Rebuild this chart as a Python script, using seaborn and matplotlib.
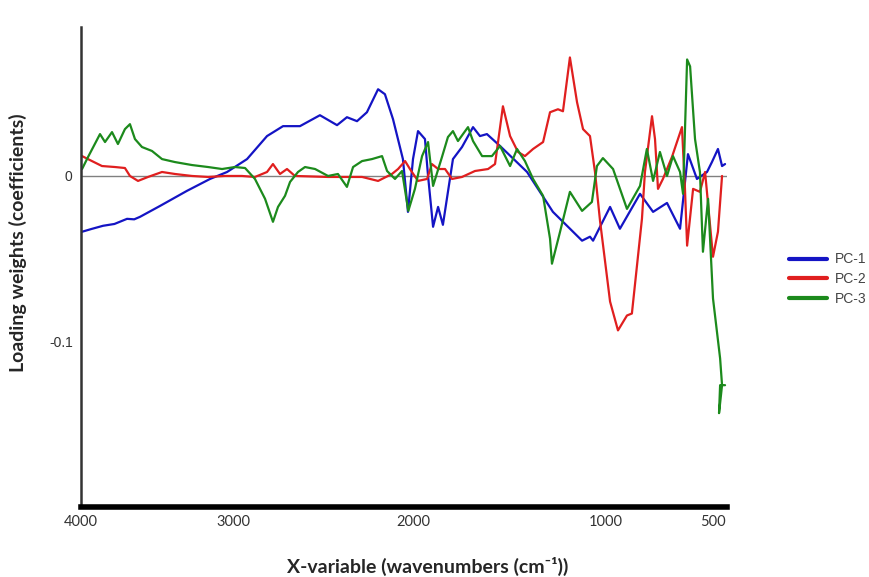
import numpy as np
import pandas as pd
import matplotlib
matplotlib.use("Agg")
import matplotlib.pyplot as plt
import seaborn as sns

# values (wavenumber, loading weight)
pc1_x = [3993, 3930, 3855, 3780, 3697, 3650, 3612, 3480, 3303, 3151, 3039, 2922, 2811, 2722,
         2628, 2517, 2422, 2367, 2311, 2256, 2194, 2156, 2111, 2056, 2028, 2000, 1974, 1938,
         1922, 1896, 1870, 1845, 1793, 1746, 1689, 1653, 1617, 1549, 1409, 1275, 1124, 1083,
         1067, 981, 935, 841, 780, 715, 654, 617, 575, 528, 505, 477, 458, 444]
pc1_y = [-0.0337, -0.0320, -0.0301, -0.0290, -0.0259, -0.0262, -0.0247, -0.0181, -0.0090,
         -0.0018, 0.0024, 0.0102, 0.0241, 0.0301, 0.0301, 0.0367, 0.0307, 0.0355, 0.0331,
         0.0385, 0.0524, 0.0494, 0.0343, 0.0102, -0.0217, 0.0102, 0.0271, 0.0223, 0.0,
         -0.0307, -0.0187, -0.0295, 0.0102, 0.0175, 0.0295, 0.0241, 0.0253, 0.0181, 0.0024,
         -0.0217, -0.0391, -0.0367, -0.0391, -0.0187, -0.0319, -0.0108, -0.0217, -0.0163,
         -0.0319, 0.0132, -0.0018, 0.0024, 0.0084, 0.0163, 0.0060, 0.0072]

pc2_x = [3993, 3928, 3862, 3776, 3711, 3678, 3625, 3559, 3467, 3382, 3270, 3164, 3053, 2950,
         2878, 2811, 2778, 2739, 2700, 2656, 2472, 2283, 2194, 2117, 2083, 2044, 2017, 1974,
         1927, 1902, 1870, 1834, 1798, 1746, 1679, 1611, 1575, 1534, 1497, 1456, 1420, 1378,
         1326, 1290, 1249, 1223, 1187, 1150, 1119, 1083, 1057, 1031, 981, 944, 902, 879, 832,
         818, 785, 771, 757, 734, 692, 645, 631, 621, 593, 561, 537, 500, 477, 458]
pc2_y = [0.0120, 0.0090, 0.0060, 0.0054, 0.0048, 0.0, -0.0030, -0.0006, 0.0024, 0.0012, 0.0,
         -0.0006, 0.0, 0.0, -0.0006, 0.0024, 0.0072, 0.0012, 0.0042, 0.0, -0.0006, -0.0006,
         -0.0030, 0.0012, 0.0042, 0.0090, 0.0042, -0.0030, -0.0018, 0.0072, 0.0042, 0.0042,
         -0.0018, -0.0006, 0.0030, 0.0042, 0.0072, 0.0421, 0.0241, 0.0145, 0.0120, 0.0163,
         0.0205, 0.0385, 0.0403, 0.0391, 0.0716, 0.0445, 0.0283, 0.0241, 0.0024, -0.0271,
         -0.0759, -0.0933, -0.0843, -0.0831, -0.0259, 0.0024, 0.0361, 0.0223, -0.0078,
         -0.0018, 0.0114, 0.0295, -0.0078, -0.0421, -0.0078, -0.0096, 0.0024, -0.0488,
         -0.0337, 0.0]

pc3_x = [3993, 3954, 3875, 3842, 3796, 3757, 3711, 3678, 3645, 3599, 3533, 3467, 3382, 3270,
         3164, 3072, 2989, 2933, 2878, 2822, 2778, 2750, 2711, 2683, 2639, 2600, 2544, 2472,
         2417, 2367, 2333, 2283, 2228, 2172, 2144, 2100, 2061, 2026, 1990, 1953, 1922, 1896,
         1850, 1819, 1793, 1767, 1715, 1689, 1642, 1591, 1549, 1497, 1461, 1420, 1378, 1326,
         1290, 1280, 1238, 1187, 1124, 1073, 1047, 1016, 967, 902, 841, 809, 780, 748, 715,
         687, 654, 640, 621, 607, 584, 561, 547, 523, 500, 467, 458, 472, 467, 444]
pc3_y = [0.0042, 0.0114, 0.0253, 0.0205, 0.0265, 0.0193, 0.0283, 0.0313, 0.0223, 0.0175,
         0.0151, 0.0102, 0.0084, 0.0066, 0.0054, 0.0042, 0.0054, 0.0048, -0.0018, -0.0138,
         -0.0277, -0.0187, -0.0120, -0.0036, 0.0024, 0.0054, 0.0042, 0.0, 0.0012, -0.0066,
         0.0054, 0.0090, 0.0102, 0.0120, 0.0030, -0.0018, 0.0030, -0.0211, -0.0078, 0.0120,
         0.0205, -0.0060, 0.0114, 0.0235, 0.0271, 0.0211, 0.0295, 0.0211, 0.0120, 0.0120,
         0.0181, 0.0060, 0.0163, 0.0090, -0.0018, -0.0120, -0.0379, -0.0530, -0.0337,
         -0.0096, -0.0211, -0.0157, 0.0060, 0.0108, 0.0042, -0.0199, -0.0060, 0.0163,
         -0.0030, 0.0145, 0.0, 0.0120, 0.0024, -0.0108, 0.0704, 0.0662, 0.0223, 0.0024,
         -0.0458, -0.0138, -0.0740, -0.1102, -0.1264, -0.1433, -0.1264, -0.1264]

labels = ["PC-1", "PC-2", "PC-3"]
colors = ["#1414c4", "#e01f1f", "#1c8a1c"]

# axis tick labels are not evenly spaced in the reference, so use a piecewise scale
tick_wn = [0, 435, 500, 1000, 2000, 3000, 4000, 5000]
tick_pos = [820, 727, 713, 606, 413, 233, 81, -71]


def forward(w):
    return -np.interp(w, tick_wn, tick_pos)


def inverse(p):
    return np.interp(-np.asarray(p), tick_pos[::-1], tick_wn[::-1])


frames = []
for name, xs, ys in zip(labels, [pc1_x, pc2_x, pc3_x], [pc1_y, pc2_y, pc3_y]):
    frames.append(pd.DataFrame({"wavenumber": xs, "loading": ys, "component": name}))
df = pd.concat(frames, ignore_index=True)

sns.set_style("white")
plt.rcParams["font.family"] = ["Lato", "DejaVu Sans"]

fig = plt.figure(figsize=(8.69, 5.77), dpi=100)
ax = fig.add_axes([81 / 869, 1 - 507 / 577, (727 - 81) / 869, (507 - 27) / 577])

ax.axhline(0, color="#808080", lw=1.0, zorder=1)
sns.lineplot(data=df, x="wavenumber", y="loading", hue="component", palette=colors,
             sort=False, estimator=None, units="component", lw=1.6, ax=ax, zorder=2)

ax.set_xscale("function", functions=(forward, inverse))
ax.set_xlim(4000, 435)
ax.set_ylim(-0.2, 0.09)
ax.set_xticks([4000, 3000, 2000, 1000, 500])
ax.set_xticklabels(["4000", "3000", "2000", "1000", "500"])
ax.minorticks_off()
ax.set_yticks([0.05, 0, -0.05, -0.1, -0.15])
ax.set_yticklabels(["", "0", "", "-0.1", ""])
ax.tick_params(axis="x", length=0, pad=6, labelsize=10.5, labelcolor="#333333")
ax.tick_params(axis="y", length=3, width=1, color="#333333", pad=3, labelsize=10,
               labelcolor="#333333")
for lab in ax.get_yticklabels():
    lab.set_family(["Liberation Sans", "DejaVu Sans"])

sns.despine(ax=ax)
ax.spines["left"].set_color("#333333")
ax.spines["left"].set_linewidth(1.8)
ax.spines["bottom"].set_color("black")
ax.spines["bottom"].set_linewidth(4)

ax.set_xlabel("X-variable (wavenumbers (cm\u207b\u00b9))", fontsize=14, fontweight="bold")
ax.set_ylabel("Loading weights (coefficients)", fontsize=14, fontweight="bold")
ax.xaxis.set_label_coords(0.537, -0.105)
ax.yaxis.set_label_coords(-0.083, 0.55)

leg = ax.legend(loc="center left", bbox_to_anchor=(1.088, 0.475), frameon=False,
                borderaxespad=0, handlelength=2.7, handletextpad=0.6, labelspacing=0.4,
                fontsize=10)
for line in leg.get_lines():
    line.set_linewidth(3)
for t in leg.get_texts():
    t.set_color("#444444")
    t.set_family(["Liberation Sans", "DejaVu Sans"])

fig.savefig("out.png", dpi=100)
